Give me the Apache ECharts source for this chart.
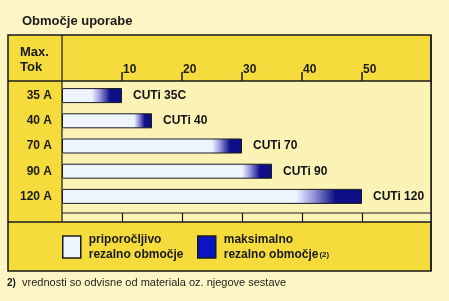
<!DOCTYPE html>
<html>
<head>
<meta charset="utf-8">
<script src="https://cdn.jsdelivr.net/npm/echarts@6/dist/echarts.min.js"></script>
<style>
html,body{margin:0;padding:0;background:#fdf6c4;}
#c{width:449px;height:301px;}
</style>
</head>
<body>
<div id="c"></div>
<script>
// ---- data ----
const currents = ['35 A', '40 A', '70 A', '90 A', '120 A'];
const products = ['CUTi 35C', 'CUTi 40', 'CUTi 70', 'CUTi 90', 'CUTi 120'];
const recommended = [5, 12, 25, 30, 39];
const maximum = [10, 15, 30, 35, 50];
const tickValues = [10, 20, 30, 40, 50];
const recName = 'priporočljivo\nrezalno območje';
const maxName = 'maksimalno\nrezalno območje';

const LIGHT = '#eef4fc';
const DARK = '#0e0e86';
const sans = '"Liberation Sans", Arial, sans-serif';

function grad(r) {
  return {
    type: 'linear', x: 0, y: 0, x2: 1, y2: 0,
    colorStops: [
      { offset: 0, color: LIGHT },
      { offset: r, color: LIGHT },
      { offset: r + (1 - r) * 0.25, color: '#9c9ce0' },
      { offset: r + (1 - r) * 0.6, color: DARK },
      { offset: 1, color: DARK }
    ]
  };
}

const chart = echarts.init(document.getElementById('c'), null, { renderer: 'canvas' });
chart.setOption({
  animation: false,
  backgroundColor: '#fdf6c4',
  title: {
    text: 'Območje uporabe', left: 17, top: 10,
    textStyle: { fontFamily: sans, fontWeight: 'bold', fontSize: 13, color: '#1a1a1a' }
  },
  graphic: [
    { type: 'rect', z: -10, shape: { x: 8, y: 35, width: 423, height: 236 },
      style: { fill: '#f5dc3c', stroke: '#1a1a1a', lineWidth: 1.5 } },
    { type: 'rect', z: -9, shape: { x: 62, y: 81, width: 369, height: 141 },
      style: { fill: '#fbf3b6' } },
    { type: 'line', z: -8, shape: { x1: 8, y1: 81, x2: 431, y2: 81 }, style: { stroke: '#1a1a1a', lineWidth: 1.5 } },
    { type: 'line', z: -8, shape: { x1: 62, y1: 35, x2: 62, y2: 222 }, style: { stroke: '#1a1a1a', lineWidth: 1.2 } },
    { type: 'line', z: -8, shape: { x1: 62, y1: 213, x2: 431, y2: 213 }, style: { stroke: '#1a1a1a', lineWidth: 1.2 } },
    { type: 'line', z: -8, shape: { x1: 8, y1: 222, x2: 431, y2: 222 }, style: { stroke: '#1a1a1a', lineWidth: 1.5 } },
    { type: 'line', z: -8, shape: { x1: 431, y1: 35, x2: 431, y2: 271 }, style: { stroke: '#1a1a1a', lineWidth: 1.5 } },
    { type: 'text', left: 20, top: 45,
      style: { text: 'Max.\nTok', font: 'bold 13px ' + sans, fill: '#1a1a1a', lineHeight: 15 } },
    { type: 'text', left: 7, top: 278,
      style: { text: '2)', font: 'bold 10px ' + sans, fill: '#1a1a1a' } },
    { type: 'text', left: 22, top: 277,
      style: { text: 'vrednosti so odvisne od materiala oz. njegove sestave', font: '11px ' + sans, fill: '#222' } }
  ],
  grid: { left: 62, right: 18, top: 83, bottom: 92, containLabel: false },
  xAxis: [
    {
      type: 'value', min: 0, max: 61.5, position: 'top', offset: 2,
      splitLine: { show: false },
      axisLine: { show: false },
      axisTick: { show: true, customValues: tickValues, length: 9, lineStyle: { color: '#1a1a1a', width: 1.5 } },
      axisLabel: { customValues: tickValues, align: 'left', margin: 5, padding: [0, 0, 0, 1],
        fontFamily: sans, fontWeight: 'bold', fontSize: 12, color: '#1a1a1a' }
    },
    {
      type: 'value', min: 0, max: 61.5, position: 'bottom', offset: 13,
      splitLine: { show: false },
      axisLine: { show: false },
      axisTick: { show: true, inside: true, customValues: tickValues, length: 9, lineStyle: { color: '#1a1a1a', width: 1.2 } },
      axisLabel: { show: false }
    }
  ],
  yAxis: {
    type: 'category', inverse: true, data: currents,
    axisLine: { show: false }, axisTick: { show: false },
    axisLabel: { margin: 10, fontFamily: sans, fontWeight: 'bold', fontSize: 12, color: '#1a1a1a' }
  },
  legend: [
    {
      left: 62, top: 232, padding: 0, itemWidth: 18, itemHeight: 22, itemGap: 0, selectedMode: false,
      icon: 'rect',
      data: [{ name: recName, itemStyle: { color: LIGHT, borderColor: '#1a1a1a', borderWidth: 1.5 } }],
      textStyle: { fontFamily: sans, fontWeight: 'bold', fontSize: 12, color: '#1a1a1a', lineHeight: 15, padding: [0, 0, 0, 3] }
    },
    {
      left: 197, top: 232, padding: 0, itemWidth: 18, itemHeight: 22, itemGap: 0, selectedMode: false,
      icon: 'rect',
      data: [{ name: maxName, itemStyle: { color: '#0a14c0', borderColor: '#1a1a1a', borderWidth: 1.5 } }],
      formatter: function (n) { return n + '{s|(2)}'; },
      textStyle: { fontFamily: sans, fontWeight: 'bold', fontSize: 12, color: '#1a1a1a', lineHeight: 15, padding: [0, 0, 0, 3],
        rich: { s: { fontSize: 8, fontFamily: sans, color: '#1a1a1a', verticalAlign: 'bottom', padding: [0, 0, 3, 1] } } }
    }
  ],
  series: [
    {
      name: recName, type: 'bar', barWidth: 15, z: 1, silent: true,
      data: recommended,
      itemStyle: { color: LIGHT }
    },
    {
      name: maxName, type: 'bar', barWidth: 15, barGap: '-100%', z: 2, silent: true,
      data: maximum.map((v, i) => ({ value: v, itemStyle: { color: grad(recommended[i] / v) } })),
      itemStyle: { color: DARK, borderColor: '#1a1a1a', borderWidth: 1 },
      label: {
        show: true, position: 'right', distance: 11,
        formatter: p => products[p.dataIndex],
        fontFamily: sans, fontWeight: 'bold', fontSize: 12, color: '#111'
      }
    }
  ]
});
</script>
</body>
</html>
